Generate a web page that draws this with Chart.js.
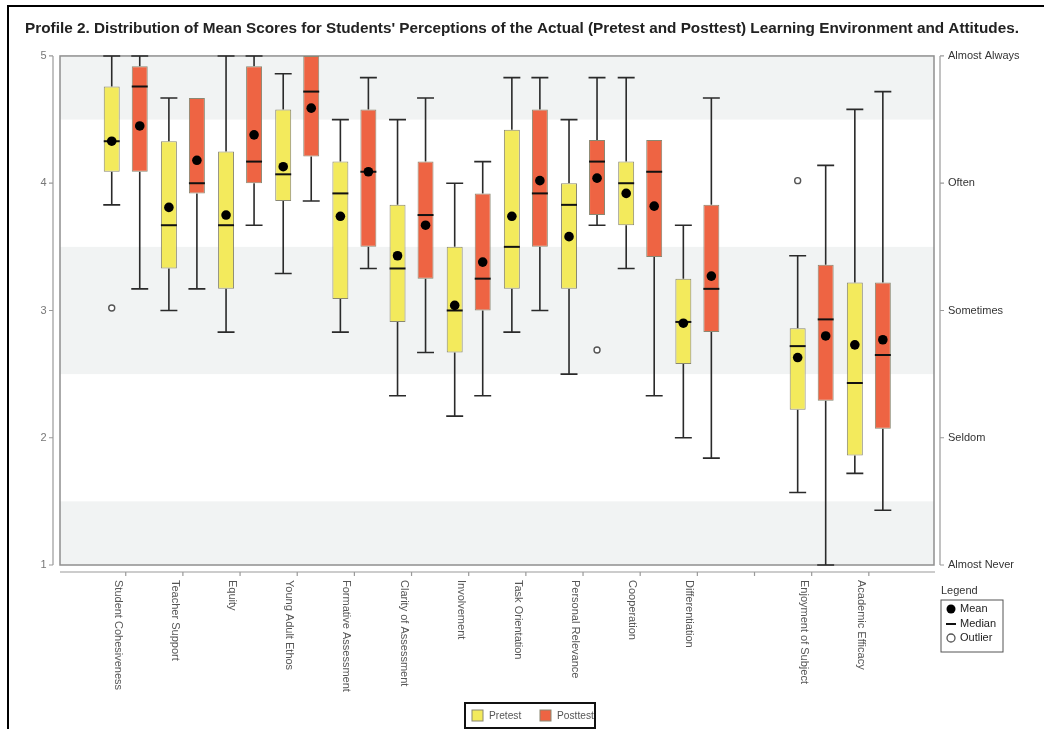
<!DOCTYPE html>
<html>
<head>
<meta charset="utf-8">
<script src="https://cdn.jsdelivr.net/npm/chart.js@4.4.1/dist/chart.umd.min.js"></script>
<style>
  html, body { margin: 0; padding: 0; background: #ffffff; }
  #wrap { width: 1044px; height: 729px; }
</style>
</head>
<body>
<div id="wrap"><canvas id="chart" width="1044" height="729"></canvas></div>
<script>
// Scales (index 11 is the empty slot that separates the attitude scales)
const CATEGORIES = [
  'Student Cohesiveness', 'Teacher Support', 'Equity', 'Young Adult Ethos',
  'Formative Assessment', 'Clarity of Assessment', 'Involvement', 'Task Orientation',
  'Personal Relevance', 'Cooperation', 'Differentiation', '',
  'Enjoyment of Subject', 'Academic Efficacy'
];
const SERIES = ['Pretest', 'Posttest'];
const LEFT_TICKS = [1, 2, 3, 4, 5];
const RIGHT_LABELS = ['Almost Never', 'Seldom', 'Sometimes', 'Often', 'Almost Always'];

// Pretest five-number summaries and means
const PRE_LOW    = [3.83, 3.00, 2.83, 3.29, 2.83, 2.33, 2.17, 2.83, 2.50, 3.33, 2.00, null, 1.57, 1.72];
const PRE_Q1     = [4.09, 3.33, 3.17, 3.86, 3.09, 2.91, 2.67, 3.17, 3.17, 3.67, 2.58, null, 2.22, 1.86];
const PRE_MEDIAN = [4.33, 3.67, 3.67, 4.07, 3.92, 3.33, 3.00, 3.50, 3.83, 4.00, 2.91, null, 2.72, 2.43];
const PRE_Q3     = [4.76, 4.33, 4.25, 4.58, 4.17, 3.83, 3.50, 4.42, 4.00, 4.17, 3.25, null, 2.86, 3.22];
const PRE_HIGH   = [5.00, 4.67, 5.00, 4.86, 4.50, 4.50, 4.00, 4.83, 4.50, 4.83, 3.67, null, 3.43, 4.58];
const PRE_MEAN   = [4.33, 3.81, 3.75, 4.13, 3.74, 3.43, 3.04, 3.74, 3.58, 3.92, 2.90, null, 2.63, 2.73];
const PRE_OUTLIERS = [[0, 3.02], [12, 4.02]];

// Posttest five-number summaries and means
const POST_LOW    = [3.17, 3.17, 3.67, 3.86, 3.33, 2.67, 2.33, 3.00, 3.67, 2.33, 1.84, null, 1.00, 1.43];
const POST_Q1     = [4.09, 3.92, 4.00, 4.21, 3.50, 3.25, 3.00, 3.50, 3.75, 3.42, 2.83, null, 2.29, 2.07];
const POST_MEDIAN = [4.76, 4.00, 4.17, 4.72, 4.09, 3.75, 3.25, 3.92, 4.17, 4.09, 3.17, null, 2.93, 2.65];
const POST_Q3     = [4.92, 4.67, 4.92, 5.00, 4.58, 4.17, 3.92, 4.58, 4.34, 4.34, 3.83, null, 3.36, 3.22];
const POST_HIGH   = [5.00, 4.67, 5.00, 5.00, 4.83, 4.67, 4.17, 4.83, 4.83, 4.34, 4.67, null, 4.14, 4.72];
const POST_MEAN   = [4.45, 4.18, 4.38, 4.59, 4.09, 3.67, 3.38, 4.02, 4.04, 3.82, 3.27, null, 2.80, 2.77];
const POST_OUTLIERS = [[8, 2.69]];

// Shaded response bands (Almost Always, Sometimes, Almost Never)
const BANDS = [[4.5, 5], [2.5, 3.5], [1, 1.5]];

const FONT = "'Liberation Sans', Arial, Helvetica, sans-serif";
Chart.defaults.font.family = FONT;

const CATEGORY_PCT = 0.98;
const BAR_PCT = 0.57;
const GROUP_OFFSET = CATEGORY_PCT / 4;   // centre of each box relative to its tick, in category units

const COLORS = {
  pre: '#f3ea5c', post: '#ee6443', boxEdge: '#8a8872',
  band: '#f1f3f3', frame: '#8f8f8f', whisker: '#2a2a2a'
};

const STATS = [
  { low: PRE_LOW, q1: PRE_Q1, med: PRE_MEDIAN, q3: PRE_Q3, high: PRE_HIGH },
  { low: POST_LOW, q1: POST_Q1, med: POST_MEDIAN, q3: POST_Q3, high: POST_HIGH }
];

function boxData(s) {
  const out = [];
  CATEGORIES.forEach((c, i) => { if (s.q1[i] != null) out.push({ x: i, y: [s.q1[i], s.q3[i]] }); });
  return out;
}
function meanData(means, shift) {
  const out = [];
  means.forEach((m, i) => { if (m != null) out.push({ x: i + shift, y: m }); });
  return out;
}
function outlierData(list, shift) {
  return list.map(([i, v]) => ({ x: i + shift, y: v }));
}

// Whiskers, medians, bands, axes and legends drawn against the chart's own scales
const boxPlotExtras = {
  id: 'boxPlotExtras',
  beforeDatasetsDraw(chart) {
    const { ctx, chartArea: a, scales: { y, x } } = chart;
    ctx.save();
    // bands
    ctx.fillStyle = COLORS.band;
    BANDS.forEach(([lo, hi]) => {
      const t = y.getPixelForValue(hi), b = y.getPixelForValue(lo);
      ctx.fillRect(a.left, t, a.right - a.left, b - t);
    });
    // frame
    ctx.strokeStyle = COLORS.frame;
    ctx.lineWidth = 1.5;
    ctx.strokeRect(a.left, a.top, a.right - a.left, a.bottom - a.top);
    // detached axis lines with tick marks
    const lx = a.left - 7, rx = a.right + 6, by = a.bottom + 7;
    ctx.strokeStyle = '#9a9a9a';
    ctx.lineWidth = 1.2;
    ctx.beginPath();
    ctx.moveTo(lx, a.top); ctx.lineTo(lx, a.bottom);
    ctx.moveTo(rx, a.top); ctx.lineTo(rx, a.bottom);
    LEFT_TICKS.forEach(v => {
      const p = y.getPixelForValue(v);
      ctx.moveTo(lx - 4, p); ctx.lineTo(lx, p);
      ctx.moveTo(rx, p); ctx.lineTo(rx + 4, p);
    });
    ctx.moveTo(a.left, by); ctx.lineTo(a.right + 1, by);
    CATEGORIES.forEach((c, i) => {
      const p = x.getPixelForValue(i);
      ctx.moveTo(p, by); ctx.lineTo(p, by + 4);
    });
    ctx.stroke();
    // whiskers
    ctx.strokeStyle = COLORS.whisker;
    ctx.lineWidth = 1.6;
    [0, 1].forEach(d => {
      const meta = chart.getDatasetMeta(d);
      const s = STATS[d];
      meta.data.forEach((el, j) => {
        const i = chart.data.datasets[d].data[j].x;
        const half = el.width / 2 + 0.5;
        const pairs = [[s.q3[i], s.high[i]], [s.q1[i], s.low[i]]];
        pairs.forEach(([edge, tip]) => {
          if (tip == null || Math.abs(tip - edge) < 1e-9) return;
          const pe = y.getPixelForValue(edge), pt = y.getPixelForValue(tip);
          ctx.beginPath();
          ctx.moveTo(el.x, pe); ctx.lineTo(el.x, pt);
          ctx.moveTo(el.x - half, pt); ctx.lineTo(el.x + half, pt);
          ctx.stroke();
        });
      });
    });
    ctx.restore();
  },
  afterDatasetDraw(chart, args) {
    if (args.index > 1) return;
    const { ctx, scales: { y } } = chart;
    const s = STATS[args.index];
    ctx.save();
    ctx.strokeStyle = '#111';
    ctx.lineWidth = 2;
    args.meta.data.forEach((el, j) => {
      const i = chart.data.datasets[args.index].data[j].x;
      const p = y.getPixelForValue(s.med[i]);
      ctx.beginPath();
      ctx.moveTo(el.x - el.width / 2, p); ctx.lineTo(el.x + el.width / 2, p);
      ctx.stroke();
    });
    ctx.restore();
  },
  afterDraw(chart) {
    const { ctx, chartArea: a, scales: { x } } = chart;
    ctx.save();
    // rotated category labels
    ctx.fillStyle = '#555';
    ctx.font = '11px ' + FONT;
    ctx.textAlign = 'left';
    ctx.textBaseline = 'middle';
    CATEGORIES.forEach((c, i) => {
      if (!c) return;
      ctx.save();
      ctx.translate(x.getPixelForValue(i) - 8, a.bottom + 15);
      ctx.rotate(Math.PI / 2);
      ctx.fillText(c, 0, 0);
      ctx.restore();
    });

    // series legend
    const lgX = 465, lgY = 703, lgW = 130, lgH = 25;
    ctx.strokeStyle = '#111';
    ctx.lineWidth = 2;
    ctx.strokeRect(lgX, lgY, lgW, lgH);
    const swatch = [COLORS.pre, COLORS.post];
    const itemX = [lgX + 7, lgX + 75];
    ctx.font = '10.2px ' + FONT;
    SERIES.forEach((name, k) => {
      ctx.fillStyle = swatch[k];
      ctx.fillRect(itemX[k], lgY + 7, 11, 11);
      ctx.strokeStyle = COLORS.boxEdge;
      ctx.lineWidth = 1;
      ctx.strokeRect(itemX[k], lgY + 7, 11, 11);
      ctx.fillStyle = '#555';
      ctx.fillText(name, itemX[k] + 17, lgY + 13);
    });

    // marker key
    ctx.font = '11px ' + FONT;
    const kx = 941, ky = 600;
    ctx.fillStyle = '#333';
    ctx.fillText('Legend', kx, 591);
    ctx.strokeStyle = '#555';
    ctx.lineWidth = 1;
    ctx.strokeRect(kx, ky, 62, 52);
    ctx.fillStyle = '#000';
    ctx.beginPath(); ctx.arc(kx + 10, ky + 9, 4.5, 0, Math.PI * 2); ctx.fill();
    ctx.strokeStyle = '#111'; ctx.lineWidth = 2;
    ctx.beginPath(); ctx.moveTo(kx + 5, ky + 24); ctx.lineTo(kx + 15, ky + 24); ctx.stroke();
    ctx.strokeStyle = '#555'; ctx.lineWidth = 1.3;
    ctx.fillStyle = '#fff';
    ctx.beginPath(); ctx.arc(kx + 10, ky + 38, 4, 0, Math.PI * 2); ctx.fill(); ctx.stroke();
    ctx.fillStyle = '#222';
    ctx.fillText('Mean', kx + 19, ky + 9);
    ctx.fillText('Median', kx + 19, ky + 24);
    ctx.fillText('Outlier', kx + 19, ky + 38);

    // outer figure border
    ctx.strokeStyle = '#000';
    ctx.lineWidth = 2;
    ctx.beginPath();
    ctx.moveTo(8, chart.height + 2); ctx.lineTo(8, 6); ctx.lineTo(chart.width + 2, 6);
    ctx.stroke();
    ctx.restore();
  }
};

new Chart(document.getElementById('chart'), {
  type: 'bar',
  data: {
    datasets: [
      { type: 'bar', label: SERIES[0], data: boxData(STATS[0]), backgroundColor: COLORS.pre,
        borderColor: COLORS.boxEdge, borderWidth: 1, borderSkipped: false,
        categoryPercentage: CATEGORY_PCT, barPercentage: BAR_PCT, order: 3 },
      { type: 'bar', label: SERIES[1], data: boxData(STATS[1]), backgroundColor: COLORS.post,
        borderColor: COLORS.boxEdge, borderWidth: 1, borderSkipped: false,
        categoryPercentage: CATEGORY_PCT, barPercentage: BAR_PCT, order: 3 },
      { type: 'scatter', label: 'Pretest mean', data: meanData(PRE_MEAN, -GROUP_OFFSET),
        pointRadius: 4.8, pointBackgroundColor: '#000', pointBorderWidth: 0, order: 1 },
      { type: 'scatter', label: 'Posttest mean', data: meanData(POST_MEAN, GROUP_OFFSET),
        pointRadius: 4.8, pointBackgroundColor: '#000', pointBorderWidth: 0, order: 1 },
      { type: 'scatter', label: 'Pretest outlier', data: outlierData(PRE_OUTLIERS, -GROUP_OFFSET),
        pointRadius: 3, pointBackgroundColor: '#fff', pointBorderColor: '#555', pointBorderWidth: 1.4, order: 1 },
      { type: 'scatter', label: 'Posttest outlier', data: outlierData(POST_OUTLIERS, GROUP_OFFSET),
        pointRadius: 3, pointBackgroundColor: '#fff', pointBorderColor: '#555', pointBorderWidth: 1.4, order: 1 }
    ]
  },
  options: {
    responsive: false,
    animation: false,
    layout: { padding: 0 },
    plugins: {
      legend: { display: false },
      tooltip: { enabled: false },
      title: {
        display: true,
        text: "Profile 2. Distribution of Mean Scores for Students' Perceptions of the Actual (Pretest and Posttest) Learning Environment and Attitudes.",
        color: '#222',
        font: { size: 15.3, weight: 'bold', family: FONT },
        padding: { top: 20, bottom: 17.6 }
      }
    },
    scales: {
      x: {
        type: 'linear', min: -1.15, max: 14.14, position: 'bottom', offset: false,
        grid: { display: false }, border: { display: false },
        ticks: { display: false },
        afterBuildTicks: s => { s.ticks = CATEGORIES.map((c, i) => ({ value: i })); },
        afterFit: s => { s.height = 164; }
      },
      y: {
        type: 'linear', min: 1, max: 5, position: 'left',
        grid: { display: false }, border: { display: false },
        afterBuildTicks: s => { s.ticks = LEFT_TICKS.map(v => ({ value: v })); },
        ticks: { color: '#777', font: { size: 11 }, padding: 5.5 },
        afterFit: s => { s.width = 60; }
      },
      y2: {
        type: 'linear', min: 1, max: 5, position: 'right',
        grid: { display: false }, border: { display: false },
        afterBuildTicks: s => { s.ticks = LEFT_TICKS.map(v => ({ value: v })); },
        ticks: { color: '#333', font: { size: 11 }, padding: 6,
                 callback: v => RIGHT_LABELS[v - 1] },
        afterFit: s => { s.width = 110; }
      }
    }
  },
  plugins: [boxPlotExtras]
});
</script>
</body>
</html>
